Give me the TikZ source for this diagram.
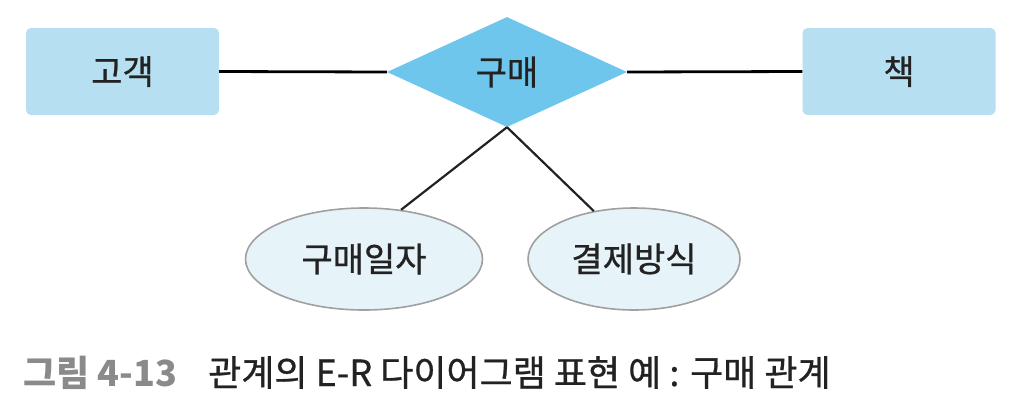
\documentclass[tikz,border=0pt]{standalone}
\usepackage{fontspec}
\setmainfont{Noto Sans CJK KR}
\newfontfamily\heavyfont[FakeBold=0.8]{Noto Sans CJK KR}
\usetikzlibrary{shapes.geometric}
\definecolor{entityfill}{HTML}{B7DFF2}
\definecolor{relfill}{HTML}{6EC6EC}
\definecolor{attrfill}{HTML}{E6F3F9}
\definecolor{attrline}{HTML}{A0A0A0}
\definecolor{textdark}{HTML}{222222}
\definecolor{capgray}{HTML}{8A8A8A}
\tikzset{
  entity/.style={fill=entityfill, rounded corners=5pt, minimum width=193pt, minimum height=87pt, inner sep=0pt},
  relation/.style={diamond, fill=relfill, minimum width=240pt, minimum height=110pt, inner sep=0pt},
  attribute/.style={ellipse, fill=attrfill, draw=attrline, line width=1.6pt, minimum height=102pt, inner sep=0pt},
  label/.style={font=\heavyfont\fontsize{34}{36}\selectfont, text=textdark},
  link/.style={line width=2.8pt, black},
  attrlink/.style={line width=2.2pt, textdark}
}
\begin{document}
\begin{tikzpicture}[x=1pt, y=-1pt]
    \useasboundingbox (0,0) rectangle (1018,408);
    \node[entity, label] (customer) at (122.5,71.5) {고객};
    \node[entity, label] (book) at (899,71.5) {책};
    \node[relation, label] (buy) at (507,72) {구매};
    \node[attribute, label, minimum width=237pt] (date) at (364,259) {구매일자};
    \node[attribute, label, minimum width=212pt] (pay) at (634,259) {결제방식};
    \draw[link] (customer.east) -- (buy.west);
    \draw[link] (buy.east) -- (book.west);
    \draw[attrlink] (buy.south) -- (date.53);
    \draw[attrlink] (buy.south) -- (pay.130);
    % caption
    \node[anchor=base west, inner sep=0pt, font=\fontsize{36}{38}\selectfont\bfseries, text=capgray] (fignum) at (23,386) {그림 4-13};
    \node[anchor=base west, inner sep=0pt, font=\heavyfont\fontsize{36}{38}\selectfont, text=textdark] (figtitle) at (208,386) {관계의 E-R 다이어그램 표현 예 : 구매 관계};
\end{tikzpicture}
\end{document}
